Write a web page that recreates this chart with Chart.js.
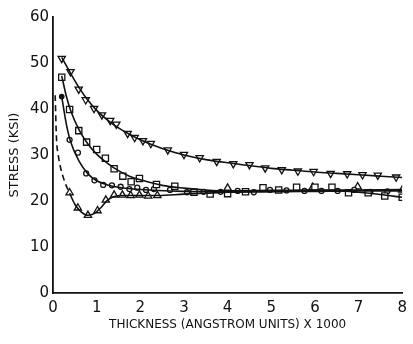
<!DOCTYPE html>
<html>
<head>
<meta charset="utf-8">
<script src="https://cdn.jsdelivr.net/npm/chart.js@4"></script>
<style>
html,body{margin:0;padding:0;background:#fff;}
#wrap{width:413px;height:344px;position:relative;}
</style>
</head>
<body>
<div id="wrap"><canvas id="c" width="413" height="344"></canvas></div>
<script>
// ---- data ----
const xTicks = [0,1,2,3,4,5,6,7,8];
const yTicks = [0,10,20,30,40,50,60];

const downTriX = [0.2,0.4,0.59,0.75,0.94,1.12,1.31,1.45,1.71,1.87,2.06,2.24,2.63,3.0,3.36,3.75,4.13,4.5,4.86,5.24,5.61,5.97,6.36,6.74,7.09,7.44,7.86];
const downTriY = [51.0,48.1,44.3,42.0,40.1,38.7,37.5,36.7,34.7,33.8,33.1,32.5,31.1,30.1,29.4,28.6,28.1,27.9,27.2,26.8,26.5,26.4,26.0,25.9,25.7,25.6,25.2];

const squareX = [0.2,0.38,0.59,0.77,1.0,1.2,1.4,1.6,1.79,1.98,2.37,2.79,3.23,3.6,4.0,4.41,4.81,5.17,5.58,6.0,6.39,6.77,7.22,7.6,8.0];
const squareY = [46.9,39.9,35.3,32.8,31.2,29.3,27.0,25.4,24.2,24.9,23.6,23.2,21.9,21.5,21.6,22.0,22.9,22.4,23.0,23.0,23.0,21.8,21.8,21.1,20.8];

const circleX = [0.38,0.57,0.76,0.95,1.15,1.35,1.55,1.75,1.93,2.13,2.31,2.68,3.07,3.45,3.84,4.23,4.6,4.97,5.35,5.76,6.15,6.52,6.9,7.27,7.66];
const circleY = [33.3,30.5,26.0,24.5,23.5,23.4,23.1,22.6,22.9,22.4,22.6,22.4,21.9,22.0,22.0,22.2,21.9,22.4,22.3,22.2,22.2,22.2,22.4,22.0,22.1];
const dotX = [0.2];
const dotY = [42.7];

const upTriX = [0.38,0.57,0.8,1.02,1.21,1.4,1.59,1.78,1.98,2.18,2.39,4.0,5.95,6.98,8.0];
const upTriY = [21.8,18.5,16.9,17.9,20.2,21.3,21.3,21.2,21.3,21.1,21.2,22.8,23.0,23.1,22.4];

// fitted curves as drawn in the figure
const curveAX = [0.2,0.4,0.6,0.8,1.0,1.25,1.5,1.75,2.0,2.5,3.0,3.5,4.0,4.5,5.0,5.5,6.0,6.5,7.0,7.5,8.0];
const curveAY = [51.2,47.8,44.6,41.9,39.7,37.6,35.9,34.5,33.3,31.4,30.0,29.0,28.3,27.7,27.1,26.7,26.3,26.0,25.7,25.4,25.1];

const curveBX = [0.2,0.3,0.4,0.6,0.8,1.0,1.25,1.5,1.75,2.0,2.5,3.0,3.5,4.0,5.0,6.0,6.5,7.0,7.5,8.0];
const curveBY = [47.2,43.0,39.8,35.4,32.4,30.2,28.2,26.6,25.4,24.6,23.4,22.8,22.4,22.2,22.3,22.4,22.3,21.9,21.4,20.8];

const curveCX = [0.2,0.3,0.4,0.6,0.8,1.0,1.25,1.5,2.0,3.0,4.0,5.0,6.0,7.0,8.0];
const curveCY = [42.7,37.0,33.0,28.6,25.9,24.4,23.5,23.0,22.5,22.1,22.0,22.0,22.1,22.2,22.2];

const curveDX = [0.38,0.5,0.65,0.8,0.95,1.1,1.25,1.4,1.6,2.0,2.4,3.0,3.5,4.0,5.0,6.0,7.0,8.0];
const curveDY = [21.7,19.3,17.6,16.9,17.3,18.6,20.2,21.0,21.2,21.2,21.2,21.5,21.7,21.9,22.1,22.3,22.4,22.5];

const dashX = [0.05,0.08,0.12,0.17,0.23,0.3,0.38];
const dashY = [43.0,33.5,30.0,27.4,25.3,23.4,21.7];

// ---- build ----
const pts = (xs, ys) => xs.map((x, i) => ({x: x, y: ys[i]}));
const INK = '#111';
const markerSet = (xs, ys, style, r, rot, fill) => ({
  data: pts(xs, ys), showLine: false, pointStyle: style, pointRadius: r,
  pointRotation: rot, pointBorderColor: INK, pointBackgroundColor: fill || '#fff',
  pointBorderWidth: 1.3, borderColor: INK
});
const curveSet = (xs, ys, dash) => ({
  data: pts(xs, ys), showLine: true, pointRadius: 0, borderColor: INK,
  borderWidth: 1.6, borderDash: dash || [], cubicInterpolationMode: 'monotone', fill: false
});

const FONT = "'DejaVu Sans', sans-serif";

new Chart(document.getElementById('c'), {
  type: 'scatter',
  data: {
    datasets: [
      curveSet(curveAX, curveAY),
      curveSet(curveBX, curveBY),
      curveSet(curveCX, curveCY),
      curveSet(curveDX, curveDY),
      curveSet(dashX, dashY, [6, 4]),
      markerSet(downTriX, downTriY, 'triangle', 4.2, 180),
      markerSet(squareX, squareY, 'rect', 4.4, 0),
      markerSet(circleX, circleY, 'circle', 2.5, 0),
      markerSet(dotX, dotY, 'circle', 2.2, 0, INK),
      markerSet(upTriX, upTriY, 'triangle', 4.2, 0)
    ]
  },
  options: {
    responsive: false,
    animation: false,
    layout: {padding: {top: 17, right: 6, bottom: 0, left: 0}},
    plugins: {legend: {display: false}, tooltip: {enabled: false}},
    scales: {
      x: {
        type: 'linear', min: 0, max: 8,
        afterBuildTicks: s => { s.ticks = xTicks.map(v => ({value: v})); },
        afterFit: s => { s.height = 51; },
        grid: {display: false, drawTicks: false},
        border: {display: true, color: INK, width: 1.8},
        ticks: {color: INK, padding: 6, font: {family: FONT, size: 15}, maxRotation: 0},
        title: {display: true, text: 'THICKNESS (ANGSTROM UNITS) X 1000', color: INK,
                font: {family: FONT, size: 12}, padding: {top: 0, bottom: 12}}
      },
      y: {
        type: 'linear', min: 0, max: 60,
        afterBuildTicks: s => { s.ticks = yTicks.map(v => ({value: v})); },
        afterFit: s => { s.width = 53; },
        grid: {display: false, drawTicks: false},
        border: {display: true, color: INK, width: 1.8},
        ticks: {color: INK, padding: 4, font: {family: FONT, size: 15}},
        title: {display: true, text: 'STRESS (KSI)', color: INK,
                font: {family: FONT, size: 13}, padding: {top: 7, bottom: 0}}
      }
    }
  }
});
</script>
</body>
</html>
